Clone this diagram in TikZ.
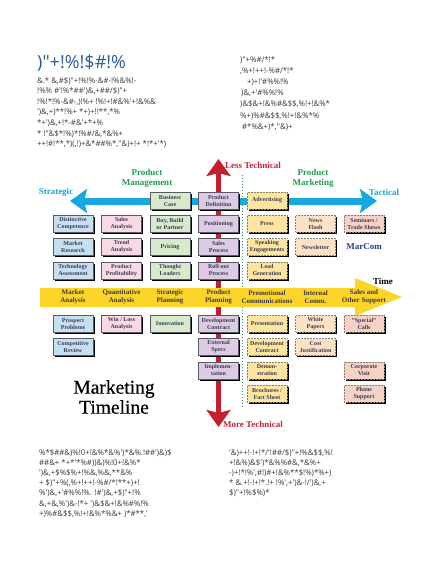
\documentclass[tikz,border=0pt]{standalone}
\usepackage{fontspec}
\setmainfont{Liberation Serif}
\newfontfamily\gfont{Open Sans}
\newfontfamily\mtfont{Liberation Serif}[FakeBold=0.4]
\usetikzlibrary{arrows.meta,shadows}
\definecolor{titleblue}{HTML}{2E5A9A}
\definecolor{bodygray}{HTML}{3A3A3A}
\definecolor{arrblue}{HTML}{17A8E1}
\definecolor{arrred}{HTML}{C3202F}
\definecolor{bandyel}{HTML}{FDD52A}
\definecolor{dotgreen}{HTML}{22A45A}
\definecolor{labgreen}{HTML}{1F9B4E}
\definecolor{labcyan}{HTML}{1AA3DC}
\definecolor{labred}{HTML}{C8203A}
\definecolor{marblue}{HTML}{2E3B8F}
\definecolor{boxtext}{HTML}{3B3B55}
\definecolor{boxline}{HTML}{5A5A66}
\definecolor{mcline}{HTML}{8A8070}
\definecolor{fblue}{HTML}{C6E0F0}
\definecolor{fpink}{HTML}{F9D9E6}
\definecolor{fgreen}{HTML}{D7EBCC}
\definecolor{fpurple}{HTML}{DCCBE2}
\definecolor{fyellow}{HTML}{FDE5A0}
\definecolor{fpeach}{HTML}{FBE2C6}
\definecolor{fsalmon}{HTML}{F5D2C4}
\begin{document}
\begin{tikzpicture}[x=1pt,y=-1pt,
  bx/.style={draw=boxline, line width=0.5pt, minimum width=40pt, minimum height=17pt,
    inner sep=0pt, align=center, font=\fontsize{6}{7}\selectfont\bfseries, text=boxtext,
    drop shadow={shadow xshift=1.8pt,shadow yshift=-1.8pt,opacity=1,fill=black}},
  mc/.style={bx, draw=mcline, densely dotted},
  bandlab/.style={align=center, font=\fontsize{7}{8.3}\selectfont\bfseries, text=bodygray},
  biglab/.style={align=center, font=\fontsize{9}{10}\selectfont\bfseries},
  gtext/.style={align=left, inner sep=0pt, text=bodygray, font=\gfont\fontsize{7.8}{10.2}\selectfont},
  redarr/.style={arrred, line width=5.5pt, {Stealth[length=17pt,width=24pt,inset=3pt]}-{Stealth[length=17pt,width=24pt,inset=3pt]}},
  bluearr/.style={arrblue, line width=7pt, {Stealth[length=17pt,width=24pt,inset=3pt]}-{Stealth[length=17pt,width=24pt,inset=3pt]}},
  greendot/.style={dotgreen, line width=1.3pt, dash pattern=on 1.2pt off 1.8pt}
]
\fill[white] (0,0) rectangle (440,569);
\useasboundingbox (0,0) rectangle (440,569);

% ---------- header text ----------
\node[anchor=base west, inner sep=0pt, text=titleblue, font=\gfont\fontsize{18}{20}\selectfont] (title) at (37,69) {)"+!\%!\$\#!\%};
\node[gtext, anchor=north west, font=\gfont\fontsize{7.8}{10.6}\selectfont] (leftblock) at (37,77) {%
\&.* \&,\#\$)"+!\%!\%-\&\#-!\%\&\%!-\\
!\%\% \#'!\%*\#\#')\&,+\#\#/\$)"+\\
!\%!*!\%-\&\#-,)!\%+ !\%!+!\#\&\%'+!\&\%\&\\
')\&,+)**!\%+ *+)+!!**,*\%\\
*+')\&,+!*-\#\&'+*+\%\\
* !"\&\$*!\%)*!\%\#/\&,*\&\%+\\
++!\#!**,*)(,!)+\&*\#\#\%*,''\&)+!+ *!*+'*)};
\node[gtext, anchor=north west, font=\gfont\fontsize{7.8}{11.2}\selectfont] (rightblock) at (240,56) {%
)"+\%\#/*!*\\
,\%+!++!-\%\#/*!*\\
\hspace*{7pt}+)+!'\#\%\%!\%\\
\hspace*{1pt})\&,+'\#\%\%!\%\\
)\&\$\&+!\&\%\#\&\$\$,\%!+!\&\%*\\
\%+)\%\#\&\$\$,\%!+!\&\%*\%\\
\hspace*{2pt}\#*\%\&+)*,''\&)+};

% ---------- footer text ----------
\node[gtext, anchor=north west] (footleft) at (39,449) {%
\%*\$\#\#\&)\%!0+!\&\%*\&\%')*\&\%.!\#\#')\&)\$\\
\#\#\&+ *+*'*\%\#))\&)\%!0+!\&\%*\\
')\&,+\$\%\$\%+!\%\&,\%\&,**\&\%\\
+ \$)"+\%(,\%+!++!-\%\#/*!**+)+!\\
\%')\&,+'\#\%\%!\%. !\#')\&,+\$)"+!\%\\
\&,+\&,\%')\&-!*+ ')\&\$\&+!\&\%\#\%!\%\\
+)\%\#\&\$\$,\%!+!\&\%*\%\&+ )*\#**,'};
\node[gtext, anchor=north west] (footright) at (229,449) {%
'\&)++!-!+!*/'!\#\#/\$)"+!\%\&\$\$,\%!\\
+!\&\%)\&\$')*\&\%\%\#\&,*\&\%+\\
-)+!*!\%',\#!)\#+!\&\%**\$!\%)*\%+)\\
* \&.+!-!+!*.!+ !\%',+')\&-!/')\&,+\\
\$)"+!\%\$\%)*};

% ---------- arrows ----------
\coordinate (bl) at (70,201);
\coordinate (br) at (377,201);
\coordinate (rt) at (218.5,159);
\coordinate (rb) at (218.5,427);
\coordinate (gt) at (242.5,175);
\coordinate (gb) at (242.5,408);
\draw[redarr] (rb) -- (rt);
\draw[bluearr] (bl) -- (br);
\draw[greendot] (gt) -- (gb);
\fill[bandyel] (40,288) -- (355,288) -- (355,278) -- (402,297) -- (355,316) -- (355,307) -- (40,307) -- cycle;

% ---------- labels ----------
\node[biglab, text=labcyan] (strategic) at (56,192) {Strategic};
\node[biglab, text=labcyan] (tactical) at (384,192) {Tactical};
\node[biglab, text=labgreen] (pm) at (147,178) {Product\\Management};
\node[biglab, text=labgreen] (pmk) at (313,178) {Product\\Marketing};
\node[biglab, text=labred] (less) at (253,165) {Less Technical};
\node[biglab, text=labred] (more) at (253,424) {More Technical};
\node[biglab, text=marblue] (marcom) at (364,247) {MarCom};
\node[biglab, text=black] (time) at (383,281) {Time};
\node[align=center, font=\mtfont\fontsize{19.5}{20}\selectfont, text=black] (mt) at (114,397) {Marketing\\Timeline};

% ---------- band labels ----------
\node[bandlab] (b1) at (73,297) {Market\\Analysis};
\node[bandlab] (b2) at (121.5,297) {Quantitative\\Analysis};
\node[bandlab] (b3) at (170,297) {Strategic\\Planning};
\node[bandlab] (b4) at (218.5,297) {Product\\Planning};
\node[bandlab] (b5) at (267,297) {Promotional\\Communications};
\node[bandlab] (b6) at (315.5,297) {Internal\\Comm.};
\node[bandlab] (b7) at (364,297) {Sales and\\Other Support};

% ---------- boxes ----------
% column 1
\node[bx, fill=fblue] (dc) at (73,223.8) {Distinctive\\Competence};
\node[bx, fill=fblue] (mr) at (73,247) {Market\\Research};
\node[bx, fill=fblue] (ta) at (73,270.3) {Technology\\Assessment};
\node[bx, fill=fblue] (pp) at (73,323.7) {Prospect\\Problems};
\node[bx, fill=fblue] (cr) at (73,347) {Competitive\\Review};
% column 2
\node[bx, fill=fpink] (sa) at (121.5,223.8) {Sales\\Analysis};
\node[bx, fill=fpink] (tra) at (121.5,247) {Trend\\Analysis};
\node[bx, fill=fpink] (ppr) at (121.5,270.3) {Product\\Profitability};
\node[bx, fill=fpink] (wl) at (121.5,323.7) {Win / Loss\\Analysis};
% column 3
\node[bx, fill=fgreen] (bc) at (170,200.5) {Business\\Case};
\node[bx, fill=fgreen] (bbp) at (170,223.8) {Buy, Build\\or Partner};
\node[bx, fill=fgreen] (pr) at (170,247) {Pricing};
\node[bx, fill=fgreen] (tl) at (170,270.3) {Thought\\Leaders};
\node[bx, fill=fgreen] (inn) at (170,323.7) {Innovation};
% column 4
\node[bx, fill=fpurple] (pd) at (218.5,200.5) {Product\\Definition};
\node[bx, fill=fpurple] (pos) at (218.5,223.8) {Positioning};
\node[bx, fill=fpurple] (sp) at (218.5,247) {Sales\\Process};
\node[bx, fill=fpurple] (rp) at (218.5,270.3) {Roll-out\\Process};
\node[bx, fill=fpurple] (dvc) at (218.5,323.7) {Development\\Contract};
\node[bx, fill=fpurple] (es) at (218.5,347) {External\\Specs};
\node[bx, fill=fpurple] (imp) at (218.5,370.3) {Implemen-\\tation};
% column 5
\node[mc, fill=fyellow] (adv) at (267,200.5) {Advertising};
\node[mc, fill=fyellow] (press) at (267,223.8) {Press};
\node[mc, fill=fyellow] (se) at (267,247) {Speaking\\Engagements};
\node[mc, fill=fyellow] (lg) at (267,270.3) {Lead\\Generation};
\node[mc, fill=fyellow] (pres) at (267,323.7) {Presentation};
\node[mc, fill=fyellow] (dvc2) at (267,347) {Development\\Contract};
\node[mc, fill=fyellow] (demo) at (267,370.3) {Demon-\\stration};
\node[mc, fill=fyellow] (bro) at (267,393.6) {Brochures /\\Fact Sheet};
% column 6
\node[mc, fill=fpeach] (nf) at (315.5,223.8) {News\\Flash};
\node[mc, fill=fpeach] (nl) at (315.5,247) {Newsletter};
\node[mc, fill=fpeach] (wp) at (315.5,323.7) {White\\Papers};
\node[mc, fill=fpeach] (cj) at (315.5,347) {Cost\\Justification};
% column 7
\node[mc, fill=fsalmon] (sts) at (364,223.8) {Seminars /\\Trade Shows};
\node[mc, fill=fsalmon] (spc) at (364,323.7) {"Special"\\Calls};
\node[mc, fill=fsalmon] (cv) at (364,370.3) {Corporate\\Visit};
\node[mc, fill=fsalmon] (phs) at (364,393.6) {Phone\\Support};
\end{tikzpicture}
\end{document}
